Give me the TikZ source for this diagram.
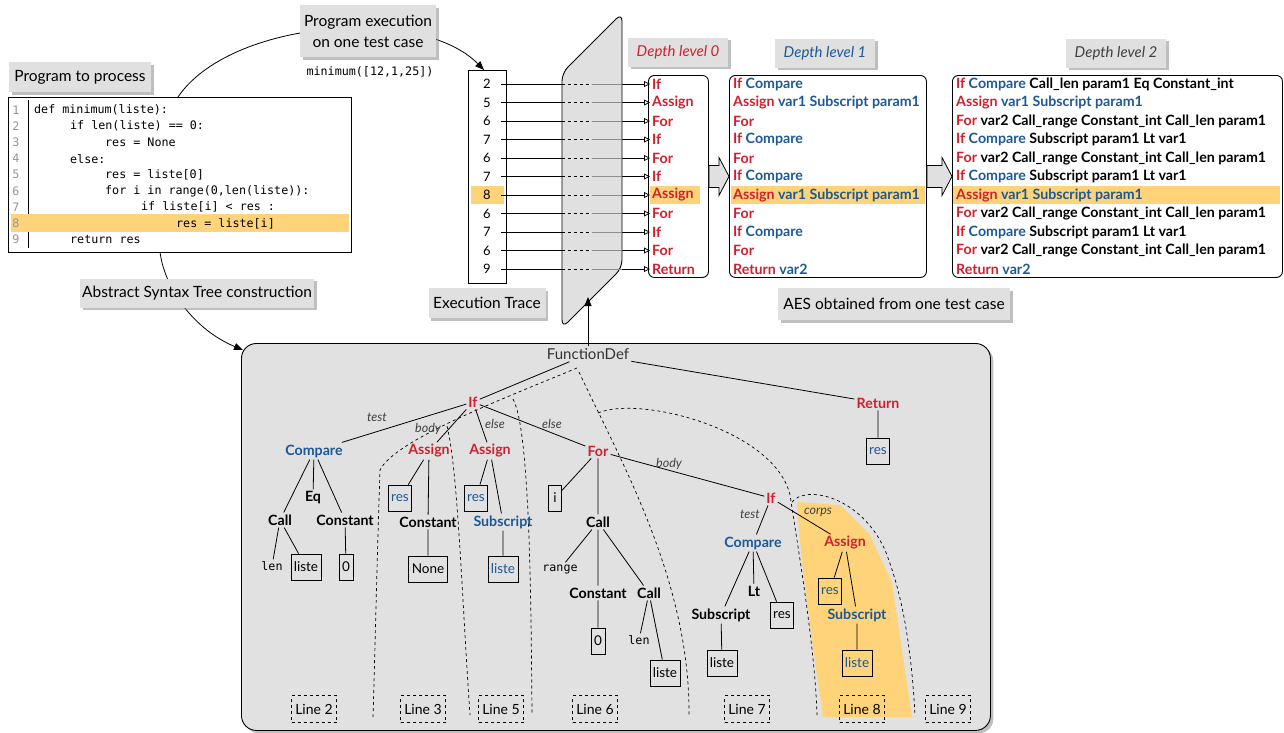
\documentclass[tikz,border=0pt]{standalone}
\usepackage{fontspec}
\setmainfont{Lato}
\setmonofont{DejaVu Sans Mono}
\usetikzlibrary{calc,arrows.meta,shadows}
\definecolor{kred}{RGB}{208,32,46}
\definecolor{kblue}{RGB}{28,88,150}
\definecolor{hl}{RGB}{255,211,122}
\definecolor{boxgray}{RGB}{224,224,224}
\definecolor{treegray}{RGB}{225,225,225}
\definecolor{numgray}{RGB}{150,150,150}
\newcommand\kR[1]{\textcolor{kred}{#1}}
\newcommand\kB[1]{\textcolor{kblue}{#1}}

\begin{document}
\begin{tikzpicture}[x=1pt,y=-1pt,
    lbl/.style={fill=boxgray,inner sep=0pt,align=center,
      drop shadow={shadow xshift=2.5pt,shadow yshift=-2.5pt,fill=black!50,opacity=.5},
      font=\fontsize{15.5}{21}\selectfont},
    dlbl/.style={lbl,minimum width=100pt,minimum height=29pt,font=\itshape\fontsize{15}{18}\selectfont},
    code/.style={anchor=west,inner sep=0pt,font=\ttfamily\fontsize{11.7}{14}\selectfont},
    row/.style={anchor=west,inner sep=0pt,font=\bfseries\fontsize{14.2}{16}\selectfont},
    frame/.style={draw,line width=.9pt,anchor=north west,inner sep=0pt},
    tn/.style={inner sep=2pt,font=\bfseries\fontsize{14.2}{16}\selectfont},
    kw/.style={tn,text=kred}, ty/.style={tn,text=kblue}, nd/.style={tn},
    lf/.style={draw,line width=.8pt,inner xsep=3pt,inner ysep=0pt,minimum height=26pt,
      minimum width=13pt,font=\fontsize{13.5}{15}\selectfont},
    blu/.style={text=kblue},
    mn/.style={inner sep=2pt,font=\ttfamily\fontsize{11.7}{14}\selectfont},
    elab/.style={inner sep=1pt,text=black!75,font=\itshape\fontsize{12.5}{14}\selectfont},
    lnbox/.style={draw,dashed,line width=.7pt,minimum width=45pt,minimum height=27pt,
      inner sep=1pt,font=\fontsize{14}{16}\selectfont},
    br/.style={line width=.8pt},
    sep/.style={dashed,line width=.7pt}]
  \useasboundingbox (0,0) rectangle (1284,732);

  % program
  \node[frame,fill=white,minimum width=343pt,minimum height=155pt] (code) at (8,97) {};
  \draw[line width=.8pt] (28,100) -- (28,248);
  \fill[hl] (11,214) rectangle (349,232);
  \foreach \k in {1,...,9}
    \node[code,text=numgray,anchor=center] (n\k) at (16,{110+(\k-1)*16.2}) {\k};
  \node[code] (c1) at (34,110) {def minimum(liste):};
  \node[code] (c2) at (70,126.2) {if len(liste) == 0:};
  \node[code] (c3) at (105,142.4) {res = None};
  \node[code] (c4) at (70,158.6) {else:};
  \node[code] (c5) at (105,174.8) {res = liste[0]};
  \node[code] (c6) at (105,191) {for i in range(0,len(liste)):};
  \node[code] (c7) at (141,207.2) {if liste[i] < res :};
  \node[code] (c8) at (176,223.4) {res = liste[i]};
  \node[code] (c9) at (70,239.6) {return res};

  % trace
  \node[frame,minimum width=38pt,minimum height=213pt] (trace) at (468,70) {};
  \fill[hl] (471,186) rectangle (504,204);
  \node[frame,rounded corners=6pt,minimum width=60pt,minimum height=202pt] (d0) at (648,75) {};
  \node[frame,rounded corners=6pt,minimum width=197pt,minimum height=202pt] (d1) at (729,75) {};
  \node[frame,rounded corners=6pt,minimum width=330pt,minimum height=202pt] (d2) at (952,75) {};
  \fill[hl] (650,186) rectangle (700,204);
  \fill[hl] (731,186) rectangle (925,204);
  \fill[hl] (953,186) rectangle (1280,204);

  \foreach \n/\w [count=\i, evaluate=\i as \yy using 84+(\i-1)*18.5] in
      {2/If,5/Assign,6/For,7/If,6/For,7/If,8/Assign,6/For,7/If,6/For,9/Return} {
    \node[minimum width=28pt,inner sep=0pt,font=\fontsize{13}{15}\selectfont] (t\i) at (487,\yy) {\n};
    \node[row,text=kred] (d0r\i) at (652,\yy) {\w};
  }
  \foreach \s [count=\i, evaluate=\i as \yy using 84+(\i-1)*18.5] in
      {{\kR{If} \kB{Compare}},{\kR{Assign} \kB{var1 Subscript param1}},{\kR{For}},
       {\kR{If} \kB{Compare}},{\kR{For}},{\kR{If} \kB{Compare}},
       {\kR{Assign} \kB{var1 Subscript param1}},{\kR{For}},{\kR{If} \kB{Compare}},
       {\kR{For}},{\kR{Return} \kB{var2}}}
    \node[row] (d1r\i) at (733,\yy) {\s};
  \foreach \s [count=\i, evaluate=\i as \yy using 84+(\i-1)*18.5] in
      {{\kR{If} \kB{Compare} Call\_len param1 Eq Constant\_int},
       {\kR{Assign} \kB{var1 Subscript param1}},
       {\kR{For} var2 Call\_range Constant\_int Call\_len param1},
       {\kR{If} \kB{Compare} Subscript param1 Lt var1},
       {\kR{For} var2 Call\_range Constant\_int Call\_len param1},
       {\kR{If} \kB{Compare} Subscript param1 Lt var1},
       {\kR{Assign} \kB{var1 Subscript param1}},
       {\kR{For} var2 Call\_range Constant\_int Call\_len param1},
       {\kR{If} \kB{Compare} Subscript param1 Lt var1},
       {\kR{For} var2 Call\_range Constant\_int Call\_len param1},
       {\kR{Return} \kB{var2}}}
    \node[row] (d2r\i) at (956,\yy) {\s};

  \foreach \i in {1,...,11}
    \draw[line width=.8pt,-{Triangle[open,length=6pt,width=6pt]}] (t\i.east) -- ($(d0r\i.west)+(-2,0)$);
  \coordinate (pl) at (562,0);
  \coordinate (pm) at (592,0);
  \coordinate (pr) at (622,0);
  \draw[line width=.9pt,fill=boxgray,rounded corners=8pt] (562,73) -- (622,13) -- (622,268) -- (562,328) -- cycle;
  \foreach \i in {1,...,11} {
    \draw[line width=.8pt,dashed] (t\i -| pl) -- (t\i -| pm);
    \draw[line width=.8pt,black!45] (t\i -| pm) -- (t\i -| pr);
  }

  % fat arrows
  \foreach \a/\b in {d0/d1,d1/d2}
    \draw[line width=.8pt,fill=boxgray] ($(\a.east)+(0,-11)$) -- ($(\b.west)+(-10,-11)$)
      -- ($(\b.west)+(-10,-19)$) -- (\b.west) -- ($(\b.west)+(-10,19)$)
      -- ($(\b.west)+(-10,11)$) -- ($(\a.east)+(0,11)$) -- cycle;

  % arcs
  \coordinate (a0) at (178,97);
  \coordinate (a1) at (484,70);
  \coordinate (a2) at (160,252);
  \coordinate (a3) at (243,350);
  \draw[line width=.8pt,-{Triangle[length=9pt,width=7pt]}] (a0) .. controls (230,20) and (420,5) .. (a1);
  \draw[line width=.8pt,-{Triangle[length=9pt,width=7pt]}] (a2) .. controls (165,290) and (195,330) .. (a3);

  % labels
  \node[lbl,minimum width=142pt,minimum height=30pt] (lp) at (80,77) {Program to process};
  \node[lbl,minimum width=136pt,minimum height=52pt] (exec) at (368,31) {Program execution\\on one test case};
  \node[code,anchor=center] (call) at (370,72) {minimum([12,1,25])};
  \node[lbl,minimum width=234pt,minimum height=29pt] (la) at (197,293) {Abstract Syntax Tree construction};
  \node[lbl,minimum width=117pt,minimum height=30pt] (lt) at (487,303) {Execution Trace};
  \node[lbl,minimum width=232pt,minimum height=32pt] (laes) at (894,304) {AES obtained from one test case};
  \node[dlbl,text=kred] (l0) at (678,52) {Depth level 0};
  \node[dlbl,text=kblue] (l1) at (825,53) {Depth level 1};
  \node[dlbl,text=black!75] (l2) at (1116,53) {Depth level 2};

  % AST
  \node[frame,fill=treegray,rounded corners=15pt,minimum width=749pt,minimum height=387pt,
    drop shadow={shadow xshift=3pt,shadow yshift=-3pt,fill=black!50,opacity=.5}] (ast) at (241,343) {};
  \fill[hl] (797,502) -- (840,505) -- (870,535) -- (892,583) -- (912,717) -- (823,717)
    .. controls (812,640) and (800,560) .. (797,502);

  \draw[sep] (577,368) .. controls (500,400) and (395,440) .. (380,470)
    .. controls (377,560) and (375,650) .. (373,718);
  \draw[sep] (447,426) .. controls (458,470) and (462,600) .. (470,715);
  \draw[sep] (513,399) .. controls (530,430) and (531,600) .. (532,715);
  \draw[sep] (579,372) .. controls (620,460) and (690,580) .. (689,715);
  \draw[sep] (598,413) .. controls (640,395) and (775,430) .. (790,495)
    .. controls (800,560) and (815,650) .. (817,715);
  \draw[sep] (792,502) .. controls (805,485) and (860,495) .. (885,550)
    .. controls (905,600) and (912,660) .. (915,715);

  \node[inner sep=2pt,text=black!80,font=\fontsize{15}{17}\selectfont] (fd) at (588,354) {FunctionDef};
  \coordinate (pbot) at (588,297);
  \draw[line width=.8pt,-{Triangle[length=9pt,width=7pt]}] (fd.north) -- (pbot);

  \node[kw] (if1) at (473,402) {If};
  \node[kw] (ret) at (878,403) {Return};
  \node[lf,blu] (retres) at (878,451) {res};
  \node[ty] (cmp1) at (314,451) {Compare};
  \node[kw] (as1) at (429,451) {Assign};
  \node[kw] (as2) at (490,451) {Assign};
  \node[kw] (for) at (598,451) {For};
  \node[nd] (eq) at (313,498) {Eq};
  \node[nd] (call1) at (280,520) {Call};
  \node[nd] (cst1) at (345,520) {Constant};
  \node[mn] (len1) at (272,566) {len};
  \node[lf] (lis1) at (306,567) {liste};
  \node[lf] (z1) at (346,567) {0};
  \node[lf,blu] (res1) at (400,498) {res};
  \node[nd] (cst2) at (428,522) {Constant};
  \node[lf] (none) at (428,569) {None};
  \node[lf,blu] (res2) at (476,498) {res};
  \node[ty] (sub1) at (503,522) {Subscript};
  \node[lf,blu] (lis2) at (503,569) {liste};
  \node[lf] (ivar) at (555,498) {i};
  \node[nd] (call2) at (598,522) {Call};
  \node[mn] (rng) at (560,569) {range};
  \node[nd] (cst3) at (598,593) {Constant};
  \node[lf] (z2) at (598,641) {0};
  \node[nd] (call3) at (649,593) {Call};
  \node[mn] (len2) at (639,640) {len};
  \node[lf] (lis3) at (665,673) {liste};
  \node[kw] (if2) at (771,498) {If};
  \node[ty] (cmp2) at (753,543) {Compare};
  \node[nd] (lt) at (754,591) {Lt};
  \node[nd] (sub2) at (721,615) {Subscript};
  \node[lf] (res3) at (782,615) {res};
  \node[lf] (lis4) at (722,663) {liste};
  \node[kw] (as3) at (845,543) {Assign};
  \node[lf,blu] (res4) at (830,591) {res};
  \node[ty] (sub3) at (857,615) {Subscript};
  \node[lf,blu] (lis5) at (857,663) {liste};

  \draw[br] (fd) -- (if1) (fd) -- (ret) (ret) -- (retres)
    (if1) -- (cmp1) (if1) -- (as1) (if1) -- (as2) (if1) -- (for)
    (cmp1) -- (call1) (cmp1) -- (eq) (cmp1) -- (cst1)
    (call1) -- (len1) (call1) -- (lis1) (cst1) -- (z1)
    (as1) -- (res1) (as1) -- (cst2) (cst2) -- (none)
    (as2) -- (res2) (as2) -- (sub1) (sub1) -- (lis2)
    (for) -- (ivar) (for) -- (call2) (for) -- (if2)
    (call2) -- (rng) (call2) -- (cst3) (call2) -- (call3) (cst3) -- (z2)
    (call3) -- (len2) (call3) -- (lis3)
    (if2) -- (cmp2) (if2) -- (as3)
    (cmp2) -- (sub2) (cmp2) -- (lt) (cmp2) -- (res3) (sub2) -- (lis4)
    (as3) -- (res4) (as3) -- (sub3) (sub3) -- (lis5);

  \node[elab] (e1) at (377,417) {test};
  \node[elab] (e2) at (428,429) {body};
  \node[elab] (e3) at (495,424) {else};
  \node[elab] (e4) at (552,424) {else};
  \node[elab] (e5) at (669,464) {body};
  \node[elab] (e6) at (750,514) {test};
  \node[elab] (e7) at (818,512) {corps};

  \foreach \k/\x in {2/314,3/423,5/501,6/595,7/747,8/862,9/948}
    \node[lnbox] (ln\k) at (\x,709) {Line \k};
\end{tikzpicture}
\end{document}
